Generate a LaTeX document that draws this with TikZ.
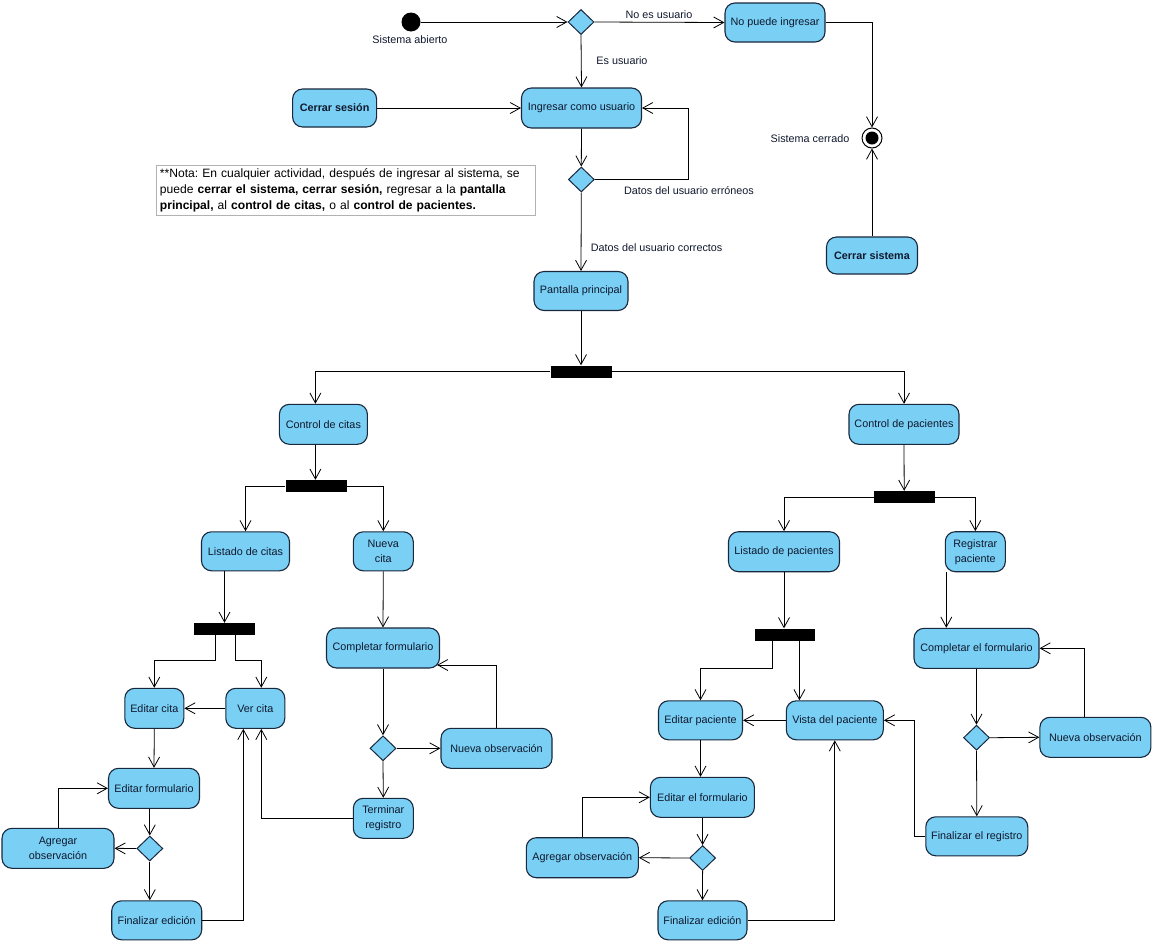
\documentclass[tikz,border=0pt]{standalone}
\usepackage{fontspec}
\setmainfont{Liberation Sans}
\usetikzlibrary{arrows.meta,shapes.geometric,calc}
\definecolor{actfill}{RGB}{122,207,245}
\definecolor{actline}{RGB}{25,40,60}
\definecolor{txt}{RGB}{15,25,45}
\frenchspacing
\begin{document}
\begin{tikzpicture}[x=1pt,y=-1pt,
  font=\fontsize{10.8}{15}\selectfont, text=txt,
  act/.style={draw=actline, line width=1.1pt, fill=actfill, rounded corners=10pt, minimum height=40pt, inner sep=1pt, align=center},
  dec/.style={diamond, draw=actline, line width=1pt, fill=actfill, minimum width=26pt, minimum height=25pt, inner sep=0pt},
  bar/.style={fill=black, minimum width=61pt, minimum height=12pt, inner sep=0pt},
  flow/.style={draw=black, line width=0.8pt, -{Straight Barb[length=10pt,width=11pt]}},
  lbl/.style={inner sep=0pt}
]
\fill[white] (0,0) rectangle (1156,943);
\useasboundingbox (0,0) rectangle (1156,943);

% ---- top part
\node[circle, fill=black, minimum size=19pt, inner sep=0pt] (init) at (411,22) {};
\node[lbl] (labab) at (410,40) {Sistema abierto};
\node[dec] (d1) at (581,22) {};
\node[lbl] (labno) at (659,15) {No es usuario};
\node[act, minimum width=100pt, minimum height=39pt] (nopuede) at (775,22.5) {No puede ingresar};
\node[circle, draw=black, line width=1pt, fill=white, minimum size=20pt, inner sep=0pt] (fin) at (872,138) {};
\fill[black] (fin.center) circle (6.5);
\node[lbl] (labcerr) at (810,139) {Sistema cerrado};
\node[lbl] (labes) at (622,61) {Es usuario};
\node[act, minimum width=120pt] (ingresar) at (581.5,108) {Ingresar como usuario};
\node[act, minimum width=84pt, minimum height=38pt] (cerrarses) at (334.6,108) {\textbf{Cerrar sesión}};
\node[dec] (d2) at (581.3,179.5) {};
\node[lbl] (laberr) at (689,191) {Datos del usuario erróneos};
\node[lbl] (labcor) at (656.6,248) {Datos del usuario correctos};
\node[act, minimum width=94pt, minimum height=39pt] (pantalla) at (581,291) {Pantalla principal};
\node[act, minimum width=91pt, minimum height=37pt] (cerrarsis) at (872,255.5) {\textbf{Cerrar sistema}};
\node[draw=black!30, line width=0.8pt, anchor=north west, text width=372pt, inner sep=3.5pt, align=left,
      font=\fontsize{12.1}{15.8}\selectfont, text=black] (nota) at (156,165)
 {**Nota: En cualquier actividad, después de ingresar al sistema, se\\
  puede \textbf{cerrar el sistema, cerrar sesión,} regresar a la \textbf{pantalla}\\
  \textbf{principal,} al \textbf{control de citas,} o al \textbf{control de pacientes.}};

\node[bar] (bar1) at (581,371.5) {};

% ---- citas
\node[act, minimum width=88pt] (ccitas) at (323.4,424.3) {Control de citas};
\node[bar] (bar2) at (316,486) {};
\node[act, minimum width=88pt, minimum height=39pt] (listc) at (245.5,551.3) {Listado de citas};
\node[act, minimum width=60pt, minimum height=39pt] (nuevac) at (383.3,551.3) {Nueva\\cita};
\node[bar] (bar3) at (224.2,629) {};
\node[act, minimum width=113pt] (complc) at (383,648) {Completar formulario};
\node[act, minimum width=59pt] (editc) at (154.3,708.3) {Editar cita};
\node[act, minimum width=59pt] (verc) at (255.3,708.3) {Ver cita};
\node[act, minimum width=91pt] (editf) at (154,788.3) {Editar formulario};
\node[dec] (d3) at (149.8,848.5) {};
\node[act, minimum width=112pt] (agrc) at (58,848.3) {Agregar\\observación};
\node[act, minimum width=90pt, minimum height=39pt] (finc) at (156.7,920.3) {Finalizar edición};
\node[dec] (d4) at (383,748.3) {};
\node[act, minimum width=111pt] (nobsc) at (496.5,748.3) {Nueva observación};
\node[act, minimum width=60pt] (termr) at (383.3,818.3) {Terminar\\registro};

% ---- pacientes
\node[act, minimum width=110pt] (cpac) at (904,424.3) {Control de pacientes};
\node[bar] (bar4) at (904.2,497) {};
\node[act, minimum width=111pt] (listp) at (784,551.7) {Listado de pacientes};
\node[act, minimum width=60pt] (regp) at (975.3,551.7) {Registrar\\paciente};
\node[bar, minimum width=60pt] (bar5) at (785.4,634.5) {};
\node[act, minimum width=125pt] (complp) at (976.5,648.3) {Completar el formulario};
\node[act, minimum width=84pt, minimum height=39pt] (editp) at (700.5,720.3) {Editar paciente};
\node[act, minimum width=97pt, minimum height=39pt] (vistap) at (834.8,720.3) {Vista del paciente};
\node[act, minimum width=104pt] (editfp) at (702.4,797.3) {Editar el formulario};
\node[dec] (d5) at (702.6,858) {};
\node[act, minimum width=112pt] (agrp) at (582.3,857.7) {Agregar observación};
\node[act, minimum width=89pt, minimum height=39pt] (finp) at (702.5,920.3) {Finalizar edición};
\node[dec] (d6) at (976.5,737.7) {};
\node[act, minimum width=111pt] (nobsp) at (1095.4,737.3) {Nueva observación};
\node[act, minimum width=102pt, minimum height=39pt] (finr) at (976.8,836.3) {Finalizar el registro};

% ---- connectors top
\draw[flow] (init) -- (d1.west);
\draw[flow] (d1.east) -- (nopuede.west);
\draw[flow] (nopuede.east) -| (fin.north);
\draw[flow] (d1.south) -- (ingresar.north);
\draw[flow] (cerrarses.east) -- (ingresar.west);
\draw[flow] (ingresar.south) -- (d2.north);
\draw[flow] (d2.east) -- ++(94,0) |- (ingresar.east);
\draw[flow] (d2.south) -- (pantalla.north);
\draw[flow] (cerrarsis.north) -- (fin.south);
\draw[flow] (pantalla.south) -- (bar1.north);
\draw[flow] (bar1.west) -| ([xshift=-8pt]ccitas.north);
\draw[flow] (bar1.east) -| (cpac.north);

% ---- connectors citas
\draw[flow] ([xshift=-8pt]ccitas.south) -- ([xshift=-8pt]ccitas.south |- bar2.north);
\draw[flow] (bar2.west) -| (listc.north);
\draw[flow] (bar2.east) -| (nuevac.north);
\draw[flow] ([xshift=-21pt]listc.south) -- ([xshift=-21pt]listc.south |- bar3.north);
\draw[flow] ([xshift=-9pt]bar3.south) -- ++(0,25) -| (editc.north);
\draw[flow] ([xshift=11pt]bar3.south) -- ++(0,25) -| ([xshift=6pt]verc.north);
\draw[flow] (verc.west) -- (editc.east);
\draw[flow] (editc.south) -- (editf.north);
\draw[flow] (d3.north |- editf.south) -- (d3.north);
\draw[flow] (d3.west) -- (agrc.east);
\draw[flow] (agrc.north) |- (editf.west);
\draw[flow] (d3.south) -- (d3.south |- finc.north);
\draw[flow] (finc.east) -| ([xshift=-12pt]verc.south);
\draw[flow] (nuevac.south) -- (complc.north);
\draw[flow] (complc.south) -- (d4.north);
\draw[flow] (d4.east) -- (nobsc.west);
\draw[flow] (nobsc.north) |- ([xshift=-3pt,yshift=-17pt]complc.east);
\draw[flow] (d4.south) -- (termr.north);
\draw[flow] (termr.west) -| ([xshift=6pt]verc.south);

% ---- connectors pacientes
\draw[flow] (cpac.south) -- (bar4.north);
\draw[flow] (bar4.west) -| (listp.north);
\draw[flow] (bar4.east) -| (regp.north);
\draw[flow] (listp.south) -- (listp.south |- bar5.north);
\draw[flow] ([xshift=-13pt]bar5.south) -- ++(0,28) -| (editp.north);
\draw[flow] ([xshift=14pt]bar5.south) -- ([xshift=14pt]bar5.south |- vistap.north);
\draw[flow] (vistap.west) -- (editp.east);
\draw[flow] (editp.south) -- (editp.south |- editfp.north);
\draw[flow] (editfp.south) -- (d5.north);
\draw[flow] (d5.west) -- (agrp.east);
\draw[flow] (agrp.north) |- (editfp.west);
\draw[flow] (d5.south) -- (finp.north);
\draw[flow] (finp.east) -| (vistap.south);
\draw[flow] ([xshift=-29pt]regp.south) -- ([xshift=-29pt]regp.south |- complp.north);
\draw[flow] (complp.south) -- (d6.north);
\draw[flow] (d6.east) -- (nobsp.west);
\draw[flow] ([xshift=-11pt]nobsp.north) |- (complp.east);
\draw[flow] (d6.south) -- (finr.north);
\draw[flow] (finr.west) -- ++(-11,0) |- (vistap.east);
\end{tikzpicture}
\end{document}
